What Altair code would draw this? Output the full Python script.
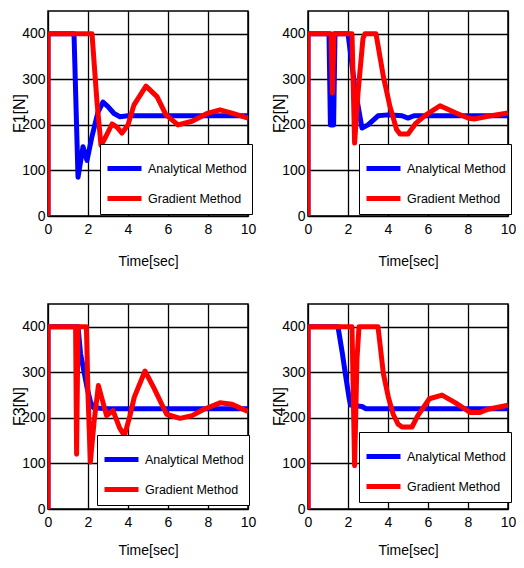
import altair as alt
import pandas as pd

# ---------------- data ----------------
methods = ["Analytical Method", "Gradient Method"]
colors = ["#0000ff", "#ff0000"]
y_titles = ["F1[N]", "F2[N]", "F3[N]", "F4[N]"]
x_ticks = [0, 2, 4, 6, 8, 10]
y_ticks = [0, 100, 200, 300, 400]

# Panel 1 (F1)
p1_ana_t = [0, 0, 1.3, 1.5, 1.75, 1.95, 2.2, 2.5, 2.75, 3.0, 3.3, 3.6, 4.0, 10]
p1_ana_v = [0, 400, 400, 85, 152, 122, 175, 228, 250, 240, 225, 218, 220, 220]
p1_grad_t = [0, 0, 2.2, 2.45, 2.65, 2.9, 3.2, 3.45, 3.7, 4.0, 4.3, 4.9, 5.45, 5.9,
             6.5, 7.2, 8.0, 8.6, 9.2, 10]
p1_grad_v = [0, 400, 400, 250, 155, 175, 202, 195, 182, 200, 244, 285, 262, 222,
             200, 208, 226, 233, 226, 215]

# Panel 2 (F2)
p2_ana_t = [0, 0, 1.05, 1.12, 1.28, 1.35, 2.0, 2.35, 2.7, 3.0, 3.5, 4.0, 4.7, 5.0, 5.3, 10]
p2_ana_v = [0, 400, 400, 200, 200, 400, 400, 280, 193, 200, 220, 222, 220, 215, 220, 220]
p2_grad_t = [0, 0, 1.15, 1.22, 1.3, 2.2, 2.33, 2.5, 2.75, 2.85, 3.4, 3.77, 4.1, 4.43,
             4.6, 5.0, 5.4, 5.9, 6.6, 7.4, 8.0, 8.3, 9.0, 10]
p2_grad_v = [0, 400, 400, 270, 400, 400, 160, 270, 390, 400, 400, 306, 240, 190,
             180, 180, 204, 222, 242, 226, 215, 213, 219, 226]

# Panel 3 (F3)
p3_ana_t = [0, 0, 1.5, 1.63, 1.79, 1.95, 2.11, 2.25, 2.6, 3.0, 10]
p3_ana_v = [0, 400, 400, 340, 304, 267, 238, 223, 221, 220, 220]
p3_grad_t = [0, 0, 1.38, 1.43, 1.5, 1.92, 2.0, 2.12, 2.3, 2.52, 2.68, 2.93, 3.25, 3.58,
             3.82, 4.1, 4.31, 4.85, 5.28, 5.93, 6.6, 7.2, 7.8, 8.6, 9.2, 10]
p3_grad_v = [0, 400, 400, 120, 400, 400, 250, 103, 190, 271, 245, 205, 216, 178,
             161, 205, 245, 303, 267, 208, 199, 205, 219, 233, 230, 214]

# Panel 4 (F4)
p4_ana_t = [0, 0, 1.5, 1.72, 1.89, 2.05, 2.13, 2.7, 2.9, 10]
p4_ana_v = [0, 400, 400, 341, 290, 245, 228, 225, 220, 220]
p4_grad_t = [0, 0, 2.2, 2.33, 2.45, 2.55, 3.5, 3.77, 4.02, 4.26, 4.51, 4.7, 5.2, 5.49,
             6.07, 6.7, 7.38, 7.87, 8.1, 8.6, 9.0, 10]
p4_grad_v = [0, 400, 400, 95, 330, 400, 400, 297, 245, 208, 186, 180, 180, 205,
             242, 250, 233, 219, 212, 212, 219, 228]

panel_data = [
    (p1_ana_t, p1_ana_v, p1_grad_t, p1_grad_v),
    (p2_ana_t, p2_ana_v, p2_grad_t, p2_grad_v),
    (p3_ana_t, p3_ana_v, p3_grad_t, p3_grad_v),
    (p4_ana_t, p4_ana_v, p4_grad_t, p4_grad_v),
]
legend_pos = [(52, 133), (51, 133), (49, 131), (51, 128)]
x_title_y = [45, 45, 41, 41]

FONT = "Liberation Sans, Arial, sans-serif"
W, H = 200, 205


def frame(t, v, method):
    return pd.DataFrame({"t": t, "v": v, "method": method, "order": list(range(len(t)))})


def panel(data, ytitle, pos, ty):
    at, av, gt, gv = data
    df = pd.concat([frame(at, av, methods[0]), frame(gt, gv, methods[1])], ignore_index=True)
    return alt.Chart(df).mark_line(strokeWidth=5, strokeJoin="round", clip=True).encode(
        x=alt.X("t:Q", scale=alt.Scale(domain=[0, 10], nice=False, zero=False),
                axis=alt.Axis(values=x_ticks, title="Time[sec]", labelFlush=False,
                              labelPadding=6, titleBaseline="middle", titleY=ty)),
        y=alt.Y("v:Q", scale=alt.Scale(domain=[0, 450], nice=False),
                axis=alt.Axis(values=y_ticks, title=ytitle, labelPadding=3,
                              titleFontSize=16, titleBaseline="middle", titleX=-29,
                              titleY=102)),
        color=alt.Color("method:N", scale=alt.Scale(domain=methods, range=colors),
                        legend=alt.Legend(title=None, orient="none",
                                          legendX=pos[0], legendY=pos[1])),
        order="order:Q",
    ).properties(width=W, height=H)


charts = [panel(d, yt, p, ty) for d, yt, p, ty in zip(panel_data, y_titles, legend_pos, x_title_y)]

chart = alt.concat(
    *charts, columns=2, spacing={"row": 88, "column": 60}, bounds="flush"
).resolve_legend(color="independent").properties(
    autosize=alt.AutoSizeParams(type="none"),
    padding={"left": 40, "top": 3, "right": 468, "bottom": 547},
).configure_view(
    stroke="black", strokeWidth=1.5
).configure_axis(
    grid=True, gridColor="black", gridWidth=1.3, gridOpacity=1,
    ticks=False, domain=False,
    labelFont=FONT, labelFontSize=14, labelColor="black",
    titleFont=FONT, titleFontSize=14, titleFontWeight="normal", titleColor="black",
).configure_legend(
    strokeColor="black", fillColor="white", padding=5,
    symbolType="stroke", symbolStrokeWidth=5, symbolSize=1156,
    labelFont=FONT, labelFontSize=12.5, labelColor="black", labelLimit=0,
    labelOffset=4, rowPadding=-2,
)

chart.save("out.html", embed_options={"renderer": "svg", "actions": False})
